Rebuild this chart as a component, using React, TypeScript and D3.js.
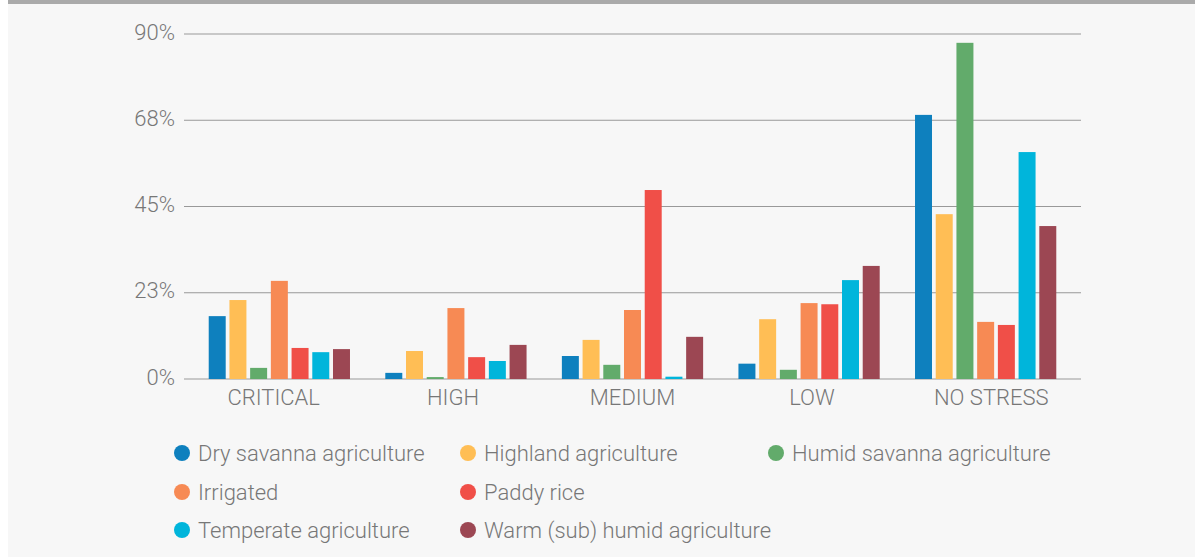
import React from "react";
import * as d3 from "d3";

const categories = ["CRITICAL", "HIGH", "MEDIUM", "LOW", "NO STRESS"];
const seriesNames = [
  "Dry savanna agriculture",
  "Highland agriculture",
  "Humid savanna agriculture",
  "Irrigated",
  "Paddy rice",
  "Temperate agriculture",
  "Warm (sub) humid agriculture",
];
const seriesColors = ["#0e80be", "#ffbe55", "#62ab6b", "#f78a54", "#f04f48", "#00b5db", "#9c4753"];
const drySavanna = [16.4, 1.6, 6.0, 4.0, 68.9];
const highland = [20.6, 7.3, 10.2, 15.6, 43.0];
const humidSavanna = [2.9, 0.5, 3.7, 2.4, 87.7];
const irrigated = [25.6, 18.5, 18.0, 19.8, 14.9];
const paddyRice = [8.1, 5.7, 49.3, 19.5, 14.1];
const temperate = [7.0, 4.7, 0.6, 25.8, 59.2];
const warmHumid = [7.8, 8.9, 11.0, 29.5, 39.9];
const seriesValues = [drySavanna, highland, humidSavanna, irrigated, paddyRice, temperate, warmHumid];
const yTicks = [0, 22.5, 45, 67.5, 90];
const yTickLabels = ["0%", "23%", "45%", "68%", "90%"];

const W = 1195;
const H = 557;
const left = 184;
const right = 1081;
const top = 34;
const bottom = 379;
const font = "Roboto, 'Open Sans', sans-serif";
const textColor = "#777";
const fs = 22;

export default function App() {
  const y = d3.scaleLinear().domain([0, 90]).range([bottom, top]);
  const x0 = d3.scaleBand<string>().domain(categories).range([left, right]).paddingInner(0.2).paddingOuter(0.14);
  const xLabel = d3.scaleBand<string>().domain(categories).range([left, right]);
  const x1 = d3.scaleBand<string>().domain(seriesNames).range([0, x0.bandwidth()]).paddingInner(0.18);

  const legendCols = [182, 468, 776];
  const legendRows = [453, 492, 530];
  const legendPos = [
    [0, 0], [1, 0], [2, 0], [0, 1], [1, 1], [0, 2], [1, 2],
  ];

  return (
    <svg width={W} height={H} style={{ position: "absolute", left: 0, top: 0 }}>
      <rect x={0} y={0} width={W} height={H} fill="#fff" />
      <rect x={8} y={0} width={W - 8} height={H} fill="#f7f7f7" />
      <rect x={8} y={0} width={W - 8} height={4} fill="#aaaaaa" />
      {yTicks.map((t, i) => (
        <g key={t}>
          <line x1={left} x2={right} y1={y(t)} y2={y(t)} stroke="#999" strokeWidth={1} />
          <text x={175} y={y(t)} dy="0.26em" textAnchor="end" fontFamily={font} fontWeight={300} fontSize={fs} fill={textColor}>
            {yTickLabels[i]}
          </text>
        </g>
      ))}
      {categories.map((c, ci) => (
        <g key={c} transform={`translate(${x0(c)},0)`}>
          {seriesNames.map((s, si) => (
            <rect
              key={s}
              x={x1(s)}
              y={y(seriesValues[si][ci])}
              width={x1.bandwidth()}
              height={bottom - y(seriesValues[si][ci])}
              fill={seriesColors[si]}
            />
          ))}
        </g>
      ))}
      {categories.map((c) => (
        <text key={c} x={(xLabel(c) as number) + xLabel.bandwidth() / 2} y={405} textAnchor="middle" fontFamily={font} fontWeight={300} fontSize={fs} fill={textColor}>
          {c}
        </text>
      ))}
      {seriesNames.map((s, i) => {
        const pos = legendPos[i];
        const cx = legendCols[pos[0]];
        const cy = legendRows[pos[1]];
        return (
          <g key={s}>
            <circle cx={cx} cy={cy} r={8} fill={seriesColors[i]} />
            <text x={cx + 16} y={cy} dy="0.35em" fontFamily={font} fontWeight={300} fontSize={fs} fill={textColor}>
              {s}
            </text>
          </g>
        );
      })}
    </svg>
  );
}
